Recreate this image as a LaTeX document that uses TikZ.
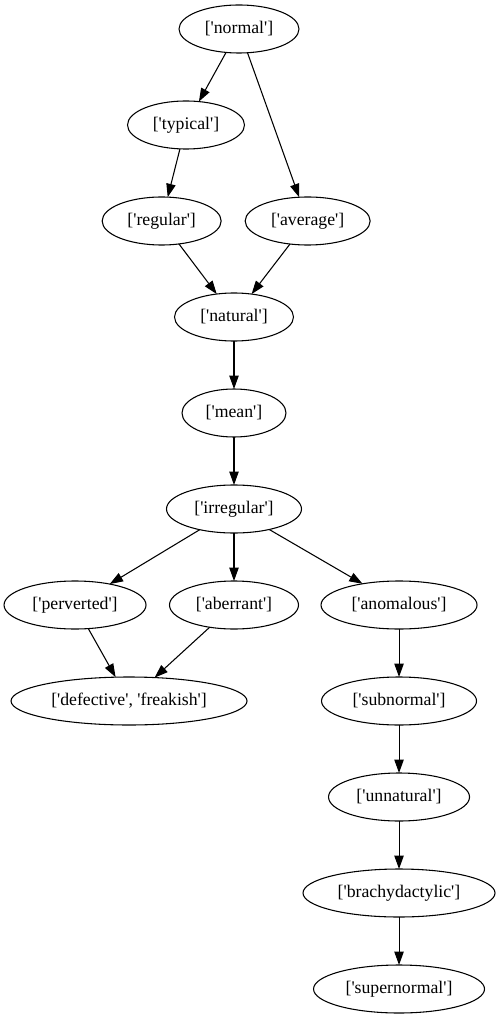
\documentclass[tikz,border=0pt]{standalone}
\usepackage{fontspec}
\setmainfont{Liberation Serif}[Ligatures=TeXOff]
\usetikzlibrary{arrows.meta,positioning,shapes.geometric}

\begin{document}
\begin{tikzpicture}[
  node distance=36pt,
  word/.style={draw,ellipse,inner sep=0pt,outer sep=0pt,minimum height=36pt,line width=0.8pt,
    font=\fontsize{13.3}{16}\selectfont},
  arr/.style={-{Triangle[length=10pt,width=7pt]},line width=0.8pt}
]
\useasboundingbox (-179.25pt,21.75pt) rectangle (195.75pt,-742.5pt);
\node[word,minimum width=90pt] (normal) {['normal']};
\node[word,minimum width=87.75pt,below=of normal,xshift=-39.75pt] (typical) {['typical']};
\node[word,minimum width=89.25pt,below=of typical,xshift=-18.25pt] (regular) {['regular']};
\node[word,minimum width=93.75pt,right=18pt of regular] (average) {['average']};
\node[word,minimum width=89.25pt,below=of regular,xshift=54.25pt] (natural) {['natural']};
\node[word,minimum width=78pt,below=of natural] (mean) {['mean']};
\node[word,minimum width=101.25pt,below=of mean] (irregular) {['irregular']};
\node[word,minimum width=96.75pt,below=of irregular] (aberrant) {['aberrant']};
\node[word,minimum width=106.5pt,left=17.6pt of aberrant] (perverted) {['perverted']};
\node[word,minimum width=117pt,right=16.9pt of aberrant] (anomalous) {['anomalous']};
\node[word,minimum width=177pt,below=of perverted,xshift=40.5pt] (defective) {['defective', 'freakish']};
\node[word,minimum width=116.25pt,below=of anomalous] (subnormal) {['subnormal']};
\node[word,minimum width=105.75pt,below=of subnormal] (unnatural) {['unnatural']};
\node[word,minimum width=144pt,below=of unnatural] (brachydactylic) {['brachydactylic']};
\node[word,minimum width=128.25pt,below=of brachydactylic] (supernormal) {['supernormal']};
\draw[arr] (normal)--(typical);
\draw[arr] (normal)--(average);
\draw[arr] (typical)--(regular);
\draw[arr] (regular)--(natural);
\draw[arr] (average)--(natural);
\draw[arr] (natural)--(mean);
\draw[arr] (mean)--(irregular);
\draw[arr] (irregular)--(perverted);
\draw[arr] (irregular)--(aberrant);
\draw[arr] (irregular)--(anomalous);
\draw[arr] (perverted)--(defective);
\draw[arr] (aberrant)--(defective);
\draw[arr] (anomalous)--(subnormal);
\draw[arr] (subnormal)--(unnatural);
\draw[arr] (unnatural)--(brachydactylic);
\draw[arr] (brachydactylic)--(supernormal);
\end{tikzpicture}
\end{document}
